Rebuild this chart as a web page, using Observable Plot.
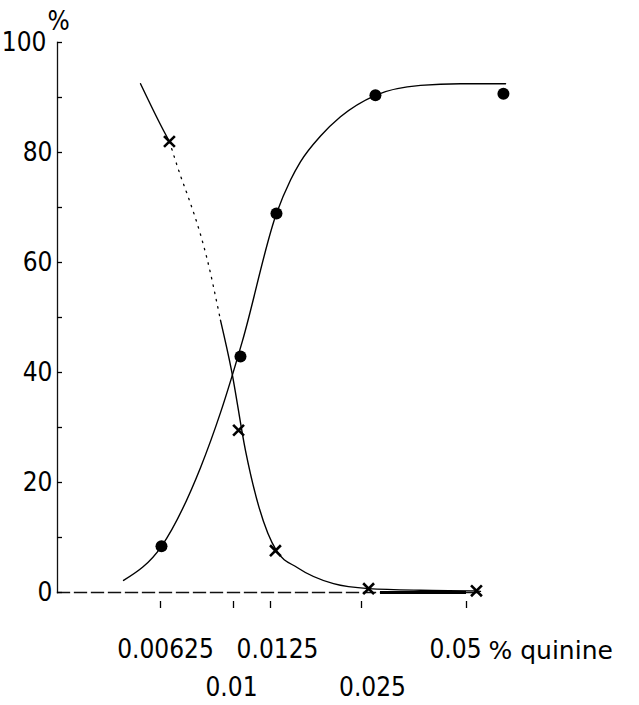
<!DOCTYPE html>
<html>
<head>
<meta charset="utf-8">
<script src="https://cdn.jsdelivr.net/npm/d3@7"></script>
<script src="https://cdn.jsdelivr.net/npm/@observablehq/plot@0.6"></script>
<style>
  html, body { margin: 0; padding: 0; background: #fff; }
  #chart { width: 639px; height: 705px; }
</style>
</head>
<body>
<div id="chart"></div>
<script>
// ---- data ----
// x tick concentrations (% quinine) and their labels
const xTicks = [0.00625, 0.01, 0.0125, 0.025, 0.05];
const xTickText = ["0.00625", "0.01", "0.0125", "0.025", "0.05"];
const xTickLabelsRow1 = [0.00625, 0.0125, 0.05];
const xTickLabelsRow2 = [0.01, 0.025];
const yMinorTicks = [0, 10, 20, 30, 40, 50, 60, 70, 80, 90, 100];
const yLabelTicks = [0, 20, 40, 60, 80];
const yTopTick = [100];

// filled circles (rising response)
const circleX = [0.00629, 0.01043, 0.01308, 0.02741, 0.0638];
const circleY = [8.4, 42.9, 68.9, 90.4, 90.7];
// crosses (falling response)
const crossX = [0.00662, 0.01031, 0.01298, 0.0262, 0.0534];
const crossY = [82, 29.5, 7.6, 0.7, 0.3];

// hand-drawn fitted curves
const riseX = [0.004927, 0.00629, 0.008085, 0.009197, 0.01056, 0.01308, 0.01456, 0.0157, 0.0183, 0.0213, 0.02741, 0.0369, 0.04805, 0.0647];
const riseY = [2.2, 8.4, 22.7, 32.7, 45.8, 68.9, 75.0, 78.3, 83.0, 86.5, 90.4, 92.2, 92.5, 92.5];
const fallAX = [0.005495, 0.006372, 0.00662];
const fallAY = [92.5, 84, 82];
const fallBX = [0.00662, 0.007108, 0.007482, 0.008085, 0.008403, 0.009197];
const fallBY = [82, 75.8, 71.8, 65.1, 61.1, 49.5];
const fallCX = [0.009197, 0.009872, 0.01075, 0.01163, 0.01308, 0.01536, 0.0202, 0.0262, 0.0369, 0.0534, 0.05483];
const fallCY = [49.5, 40.4, 25.8, 15.8, 7.6, 4.5, 1.6, 0.7, 0.4, 0.3, 0.2];

// heavy part of the x baseline
const heavyX1 = 0.02834, heavyX2 = 0.05;

// ---- presentation ----
const xLabelDx = [5, -2, 7, 11, -11];
const FONT = "'DejaVu Sans Condensed', 'DejaVu Sans', sans-serif";
const FS = 26;

const zip = (xs, ys) => xs.map((x, i) => ({x, y: ys[i]}));

const xLabelAxes = xTicks.map((t, i) => Plot.axisX({
  ticks: [t], tickSize: 0,
  tickPadding: xTickLabelsRow1.includes(t) ? 47 : 85,
  dx: xLabelDx[i], fontSize: FS, label: null,
  tickFormat: () => xTickText[i]
}));

const chart = Plot.plot({
  width: 639,
  height: 705,
  marginLeft: 57,
  marginRight: 159,
  marginTop: 42,
  marginBottom: 113,
  style: {fontFamily: FONT, background: "#fff", color: "#000", overflow: "visible"},
  x: {type: "log", domain: xTicks, range: [160, 233, 270, 361, 466]},
  y: {domain: [0, 100]},
  marks: [
    // axes lines
    Plot.frame({anchor: "left", stroke: "#111", strokeWidth: 1.3}),
    Plot.frame({anchor: "bottom", stroke: "#111", strokeWidth: 1.3, strokeDasharray: "12,5"}),
    Plot.ruleY([0], {x1: heavyX1, x2: heavyX2, stroke: "#000", strokeWidth: 3}),
    // y ticks (pointing inward) and labels
    Plot.axisY({ticks: yMinorTicks, tickSize: 5, dx: 5, tickFormat: () => "", label: null, strokeWidth: 1.3}),
    Plot.axisY({ticks: yLabelTicks, tickSize: 0, tickPadding: 5, fontSize: FS, label: null, tickFormat: d => String(d)}),
    Plot.axisY({ticks: yTopTick, tickSize: 0, tickPadding: 11, fontSize: FS, label: null, tickFormat: d => String(d)}),
    // x ticks and two rows of labels
    Plot.axisX({ticks: xTicks, tickSize: 7, dy: 9, tickFormat: () => "", label: null, strokeWidth: 1.3}),
    ...xLabelAxes,
    // axis titles
    Plot.text(["%"], {text: d => d, frameAnchor: "top-left", dx: -10, dy: -21, textAnchor: "start", lineAnchor: "middle", fontSize: FS}),
    Plot.text(["% quinine"], {text: d => d, frameAnchor: "bottom-right", dx: 8, dy: 58, textAnchor: "start", lineAnchor: "middle", fontSize: 25, fontFamily: "'DejaVu Sans', sans-serif"}),
    // curves
    Plot.line(zip(riseX, riseY), {x: "x", y: "y", curve: "monotone-x", stroke: "#000", strokeWidth: 1.4}),
    Plot.line(zip(fallAX, fallAY), {x: "x", y: "y", curve: "monotone-x", stroke: "#000", strokeWidth: 1.4}),
    Plot.line(zip(fallBX, fallBY), {x: "x", y: "y", curve: "monotone-x", stroke: "#000", strokeWidth: 1.3, strokeDasharray: "1.5,6"}),
    Plot.line(zip(fallCX, fallCY), {x: "x", y: "y", curve: "monotone-x", stroke: "#000", strokeWidth: 1.4}),
    // markers
    Plot.dot(zip(circleX, circleY), {x: "x", y: "y", r: 6, fill: "#000", stroke: "none"}),
    Plot.dot(zip(crossX, crossY), {x: "x", y: "y", symbol: "times", r: 5, stroke: "#000", strokeWidth: 2.6})
  ]
});
document.getElementById("chart").appendChild(chart);
</script>
</body>
</html>
